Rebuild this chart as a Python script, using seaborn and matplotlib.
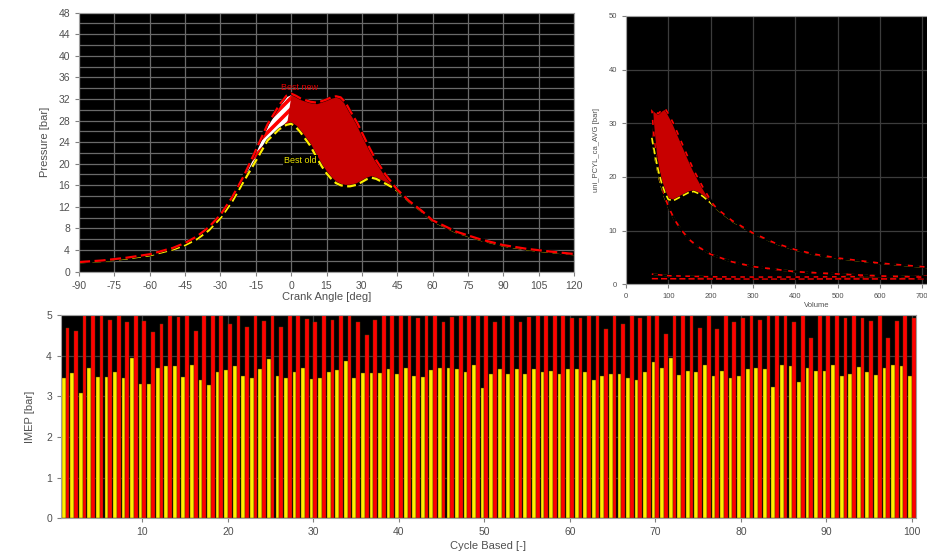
import numpy as np
import pandas as pd
import matplotlib
matplotlib.use("Agg")
import matplotlib.pyplot as plt
import seaborn as sns

sns.set_style("dark")
plt.rcParams['font.family'] = ['Liberation Sans', 'DejaVu Sans']
plt.rcParams['hatch.linewidth'] = 2.6
plt.rcParams['axes.unicode_minus'] = False

# ---------------- data: pressure vs crank angle ----------------
crank_angle = [-90, -80, -70, -60, -50, -45, -40, -35, -30, -25, -20, -15, -10, -5, -2, 0,
               2, 4, 6, 8, 11, 13, 15, 17, 19, 21, 23, 25, 28, 30, 32, 34, 36, 40, 43, 45,
               50, 55, 60, 70, 80, 90, 100, 110, 120]
p_best_old = [1.7, 1.95, 2.4, 3.0, 4.1, 4.9, 6.0, 7.6, 9.9, 13.0, 16.8, 20.5, 24.3, 26.4, 27.2, 27.4,
              26.8, 25.8, 24.6, 23.4, 21.0, 19.5, 18.2, 17.2, 16.4, 16.0, 15.8, 15.8, 16.1, 16.6, 17.1, 17.4, 17.2, 16.3, 15.6, 15.0,
              13.0, 11.3, 9.4, 7.3, 5.9, 4.8, 4.1, 3.6, 3.2]
p_best_new = [1.75, 2.05, 2.55, 3.2, 4.4, 5.3, 6.5, 8.2, 10.5, 13.8, 17.8, 22.5, 27.3, 30.9, 32.6, 33.0,
              32.6, 32.1, 31.8, 31.5, 31.3, 31.6, 31.9, 32.3, 32.5, 32.3, 31.4, 29.8, 27.6, 25.8, 24.0, 22.3, 20.7, 18.0, 16.3, 15.2,
              13.1, 11.4, 9.5, 7.4, 6.0, 4.9, 4.2, 3.7, 3.25]

# ---------------- data: p-V diagram ----------------
vol_compression = [850, 720, 600, 500, 400, 300, 250, 200, 170, 150, 130, 115, 100, 90, 80, 70, 64, 61]
p_comp_old = [1.15, 1.3, 1.55, 1.92, 2.35, 3.3, 4.2, 5.6, 7.0, 8.3, 10.2, 12.0, 14.4, 16.5, 19.2, 23.0, 25.8, 27.3]
p_comp_new = [1.15, 1.3, 1.55, 1.92, 2.35, 3.3, 4.2, 5.6, 7.0, 8.3, 10.2, 12.0, 14.5, 16.8, 19.8, 24.5, 29.5, 32.8]
vol_expansion = [61, 68, 76, 84, 92, 100, 112, 124, 136, 148, 160, 172, 183, 195, 205, 215,
                 250, 300, 350, 400, 450, 500, 600, 720, 850]
p_exp_old = [27.3, 24.4, 21.3, 18.9, 17.1, 15.8, 15.6, 16.1, 16.6, 17.1, 17.3, 16.9, 16.3, 15.5, 14.8, 14.0,
             11.8, 9.5, 7.7, 6.4, 5.5, 4.85, 3.9, 3.1, 2.6]
p_exp_new = [32.8, 32.3, 31.8, 32.4, 32.8, 31.8, 30.0, 27.8, 25.6, 23.4, 21.3, 19.5, 17.9, 16.3, 15.0, 14.1,
             11.9, 9.55, 7.75, 6.45, 5.55, 4.9, 3.95, 3.15, 2.65]
vol_exhaust = [61, 100, 200, 300, 400, 500, 600, 720, 850]
p_exhaust = [1.9, 1.6, 1.4, 1.35, 1.35, 1.4, 1.45, 1.5, 1.5]
vol_intake = [61, 200, 400, 600, 850]
p_intake = [1.05, 1.0, 1.0, 1.0, 1.05]

# ---------------- data: IMEP per cycle ----------------
cycles = list(range(1, 101))
imep_old = [3.44, 3.57, 3.07, 3.70, 3.47, 3.47, 3.61, 3.44, 3.95, 3.31,
            3.31, 3.70, 3.74, 3.74, 3.47, 3.77, 3.40, 3.29, 3.61, 3.64,
            3.74, 3.51, 3.45, 3.67, 3.92, 3.51, 3.44, 3.61, 3.70, 3.43,
            3.46, 3.60, 3.64, 3.86, 3.46, 3.57, 3.57, 3.57, 3.67, 3.54,
            3.70, 3.51, 3.48, 3.64, 3.69, 3.70, 3.67, 3.60, 3.77, 3.21,
            3.56, 3.68, 3.56, 3.68, 3.54, 3.67, 3.59, 3.63, 3.54, 3.67,
            3.67, 3.59, 3.40, 3.50, 3.56, 3.54, 3.46, 3.40, 3.59, 3.84,
            3.69, 3.95, 3.52, 3.62, 3.60, 3.78, 3.51, 3.62, 3.45, 3.51,
            3.68, 3.69, 3.66, 3.22, 3.76, 3.75, 3.35, 3.69, 3.63, 3.63,
            3.76, 3.51, 3.55, 3.72, 3.61, 3.53, 3.69, 3.78, 3.75, 3.51]
imep_new = [4.67, 4.61, 5.4, 5.4, 5.4, 4.88, 5.4, 4.84, 5.4, 4.85,
            4.57, 4.78, 5.4, 4.94, 5.4, 4.61, 5.4, 5.4, 5.4, 4.78,
            5.4, 4.70, 5.4, 4.86, 5.4, 4.70, 5.4, 5.4, 4.91, 4.83,
            5.4, 4.87, 5.4, 5.4, 4.82, 4.52, 4.87, 5.4, 5.4, 5.4,
            5.4, 4.92, 5.4, 5.4, 4.82, 4.94, 5.4, 5.4, 5.4, 5.4,
            4.82, 5.4, 5.4, 4.82, 4.94, 5.4, 5.4, 5.4, 5.4, 4.93,
            4.92, 5.4, 5.4, 4.65, 5.4, 4.77, 5.4, 4.92, 5.4, 5.4,
            4.53, 5.4, 5.4, 5.4, 4.69, 5.4, 4.66, 5.4, 4.82, 4.92,
            5.4, 4.88, 5.4, 5.4, 5.4, 4.82, 5.4, 4.44, 5.4, 5.4,
            5.4, 4.92, 5.4, 4.92, 4.86, 5.4, 4.44, 4.85, 5.4, 4.92]

YELLOW = '#ffee00'
RED = '#ff0000'
FILL = '#c80000'
TXT = '#505050'

fig = plt.figure(figsize=(9.28, 5.54), dpi=100)
fig.patch.set_facecolor('white')


def style_axes(ax, gridcol):
    ax.set_facecolor('black')
    for s in ax.spines.values():
        s.set_visible(True)
        s.set_color('#a0a0a0')
        s.set_linewidth(0.8)
    ax.tick_params(axis='both', colors='#808080', labelcolor=TXT, direction='out',
                   length=3, width=0.8, labelsize=7.5, bottom=True, left=True)
    ax.grid(True, color=gridcol, linewidth=0.9)
    ax.set_axisbelow(True)


def dashed(ax, x, y, color, dash, lw=1.4):
    sns.lineplot(x=x, y=y, ax=ax, color='black', linewidth=lw + 0.5, sort=False, estimator=None)
    sns.lineplot(x=x, y=y, ax=ax, color=color, linewidth=lw, sort=False, estimator=None,
                 linestyle=dash)


# ---------------- top-left: pressure vs crank angle ----------------
ax1 = fig.add_axes([79 / 928, 1 - 271.5 / 554, (574 - 79) / 928, (271.5 - 12.7) / 554])
style_axes(ax1, '#6a6a6a')
ca = np.array(crank_angle)
po = np.array(p_best_old)
pn = np.array(p_best_new)
ax1.fill_between(ca, po, pn, where=(ca >= -25) & (ca <= 0), facecolor='white',
                 edgecolor=RED, hatch='///', linewidth=0, interpolate=True, zorder=2)
ax1.fill_between(ca, po, pn, where=(ca >= 0) & (ca <= 45), facecolor=FILL,
                 linewidth=0, interpolate=True, zorder=2)
dashed(ax1, crank_angle, p_best_old, YELLOW, (0, (4, 2)), lw=1.6)
dashed(ax1, crank_angle, p_best_new, RED, (0, (5, 2)), lw=1.6)
ax1.set_xlim(-90, 120)
ax1.set_ylim(0, 48)
ax1.set_xticks(range(-90, 121, 15))
ax1.set_yticks(range(0, 49, 4))
ax1.set_yticks(range(2, 48, 4), minor=True)
ax1.grid(True, which='minor', axis='y', color='#6a6a6a', linewidth=0.9)
ax1.tick_params(which='minor', length=0)
ax1.set_xlabel('Crank Angle [deg]', fontsize=8, color=TXT, labelpad=1)
ax1.set_ylabel('Pressure [bar]', fontsize=8, color=TXT, labelpad=6)
ax1.text(3.5, 34.2, 'Best new', color='#e00000', fontsize=6.5, ha='center', va='center', zorder=5)
ax1.text(4.0, 20.6, 'Best old', color='#e8e000', fontsize=6.5, ha='center', va='center', zorder=5,
         bbox=dict(facecolor='black', edgecolor='none', pad=1))

# ---------------- top-right: p-V diagram ----------------
ax2 = fig.add_axes([626 / 928, 1 - 284.3 / 554, 381 / 928, (284.3 - 16) / 554])
style_axes(ax2, '#3c3c3c')
ve = np.array(vol_expansion)
ax2.fill_between(ve, p_exp_old, p_exp_new, where=ve <= 215, facecolor=FILL, linewidth=0,
                 interpolate=True, zorder=2)
dashed(ax2, vol_intake, p_intake, RED, (0, (4, 2)), lw=1.1)
dashed(ax2, vol_exhaust, p_exhaust, YELLOW, (0, (4, 2)), lw=1.1)
dashed(ax2, vol_exhaust, p_exhaust, RED, (2, (3, 3)), lw=1.1)
dashed(ax2, vol_compression, p_comp_old, YELLOW, (0, (4, 2)), lw=1.2)
dashed(ax2, vol_compression, p_comp_new, RED, (3, (3, 4)), lw=1.2)
dashed(ax2, vol_expansion, p_exp_old, YELLOW, (0, (4, 2)), lw=1.2)
dashed(ax2, vol_expansion, p_exp_new, RED, (3, (3, 4)), lw=1.2)
ax2.set_xlim(0, 900)
ax2.set_ylim(0, 50)
ax2.set_xticks(range(0, 701, 100))
ax2.set_xticks([800, 900], minor=True)
ax2.grid(True, which='minor', axis='x', color='#3c3c3c', linewidth=0.9)
ax2.set_yticks(range(0, 51, 10))
ax2.tick_params(labelsize=5.5, length=3)
ax2.set_xlabel('Volume', fontsize=5.5, color=TXT, labelpad=1)
ax2.set_ylabel('uni_PCYL_ca_AVG [bar]', fontsize=5.5, color=TXT, labelpad=6)

# ---------------- bottom: IMEP bars ----------------
ax3 = fig.add_axes([61 / 928, 1 - 518.3 / 554, (916 - 61) / 928, (518.3 - 315) / 554])
style_axes(ax3, '#3c3c3c')
df = pd.DataFrame({
    'cycle': cycles * 2,
    'imep': imep_old + imep_new,
    'series': ['Best old'] * len(cycles) + ['Best new'] * len(cycles),
})
sns.barplot(data=df, x='cycle', y='imep', hue='series', hue_order=['Best old', 'Best new'],
            palette={'Best old': YELLOW, 'Best new': RED}, native_scale=True, width=0.88,
            dodge=True, legend=False, ax=ax3, edgecolor='#5a3a00', linewidth=0.3,
            saturation=1, errorbar=None)
ax3.set_xlim(0.47, 100.47)
ax3.set_ylim(0, 5)
ax3.set_xticks(range(10, 101, 10))
ax3.set_yticks(range(0, 6))
ax3.set_xlabel('Cycle Based [-]', fontsize=8, color=TXT, labelpad=3)
ax3.set_ylabel('IMEP [bar]', fontsize=8, color=TXT, labelpad=8)

fig.savefig('out.png', dpi=100, facecolor='white')
